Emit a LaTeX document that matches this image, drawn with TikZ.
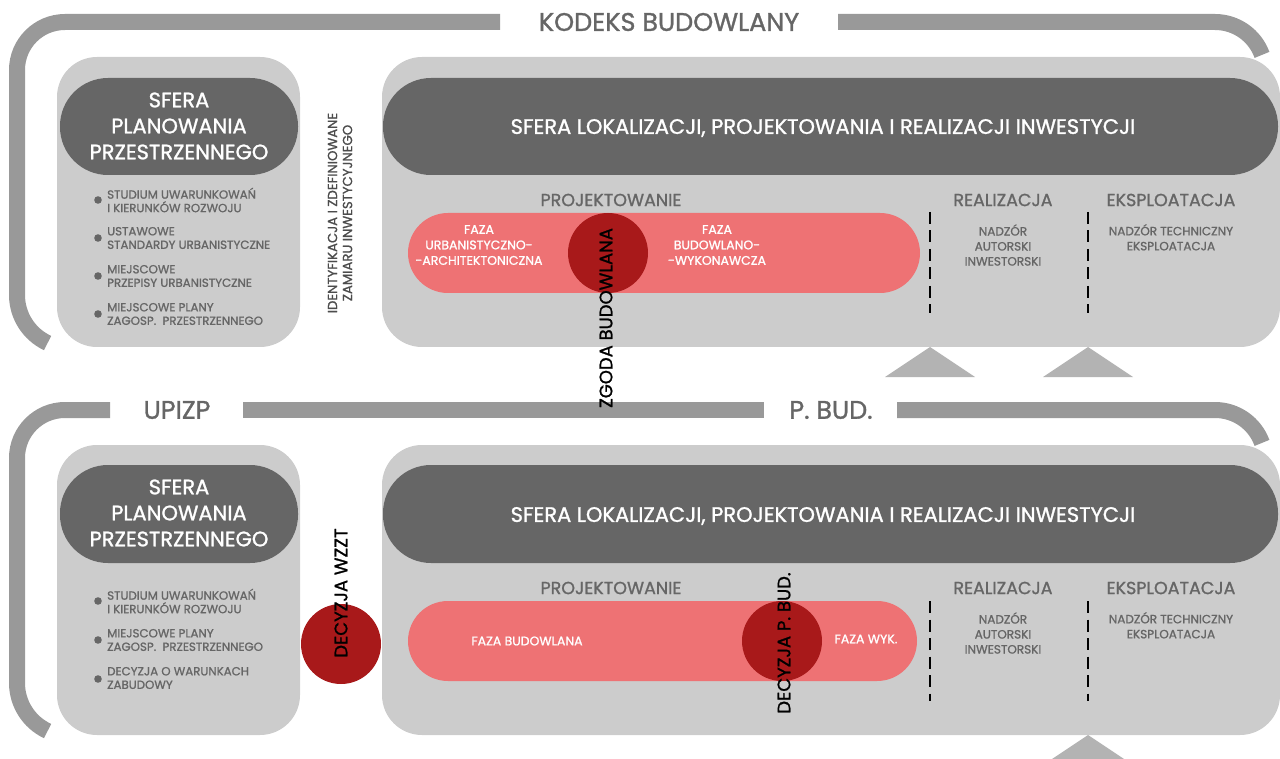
\documentclass[tikz,border=0pt]{standalone}
\usepackage{fontspec}
\setmainfont{Poppins}[FakeBold=1.2]
\definecolor{barg}{HTML}{999999}
\definecolor{lightg}{HTML}{CCCCCC}
\definecolor{darkg}{HTML}{666666}
\definecolor{txtg}{HTML}{666666}
\definecolor{salmon}{HTML}{EE7274}
\definecolor{dred}{HTML}{A8191A}
\definecolor{trig}{HTML}{B3B3B3}
\tikzset{
  bar/.style={draw=barg, line width=16pt, line cap=butt},
  panel/.style={fill=lightg, rounded corners=40pt},
  pill/.style={fill=darkg, rounded corners=48pt},
  phase/.style={fill=salmon, rounded corners=40pt},
  stamp/.style={fill=dred},
  tri/.style={fill=trig},
  sep/.style={draw=black, line width=2.6pt, dash pattern=on 12pt off 6.5pt},
  bigtitle/.style={text=txtg, font=\fontsize{25.5}{28}\selectfont, inner sep=0pt},
  pilltext/.style={text=white, align=center, font=\fontsize{21}{26}\selectfont, inner sep=0pt},
  head/.style={text=txtg, font=\fontsize{17.5}{18}\selectfont, inner sep=0pt},
  small/.style={text=txtg, align=left, anchor=west, font=\fontsize{11.8}{13.5}\selectfont, inner sep=0pt},
  smallc/.style={text=txtg, align=center, font=\fontsize{12}{15}\selectfont, inner sep=0pt},
  white small/.style={text=white, align=center, font=\fontsize{12.5}{15.5}\selectfont, inner sep=0pt},
  vlabel/.style={text=black, rotate=90, font=\fontsize{18}{18}\selectfont, inner sep=0pt},
  dot/.style={fill=txtg},
}
\begin{document}
\begin{tikzpicture}[x=1pt,y=-1pt]
\useasboundingbox (0,0) rectangle (1280,759);
\clip (0,0) rectangle (1280,759);

% ---------- brackets ----------
\draw[bar] (500,22) -- (65,22) arc[start angle=270, end angle=180, radius=48] -- (17,295) arc[start angle=180, end angle=115, radius=53];
\draw[bar] (838,22) -- (1215,22) arc[start angle=270, end angle=340, radius=50];
\draw[bar] (110,410) -- (65,410) arc[start angle=270, end angle=180, radius=48] -- (17,683) arc[start angle=180, end angle=115, radius=53];
\draw[bar] (243,410) -- (764,410);
\draw[bar] (897,410) -- (1215,410) arc[start angle=270, end angle=340, radius=50];

\node[bigtitle] (kb) at (669,22) {KODEKS BUDOWLANY};
\node[bigtitle] (upizp) at (177,410) {UPIZP};
\node[bigtitle] (pbud) at (831,410) {P. BUD.};

% ---------- top row ----------
\fill[panel] (57,57) rectangle (300,347);
\fill[pill] (60,78) rectangle (298,175);
\node[pilltext] (spp1) at (179,126) {SFERA\\PLANOWANIA\\PRZESTRZENNEGO};

\foreach \y/\i in {200/1,238/2,276/3,314/4}{\fill[dot] (98,\y) circle (3.8);}
\node[small] (b1) at (107,200) {STUDIUM UWARUNKOWAŃ\\I KIERUNKÓW ROZWOJU};
\node[small] (b2) at (107,238) {USTAWOWE\\STANDARDY URBANISTYCZNE};
\node[small] (b3) at (107,276) {MIEJSCOWE\\PRZEPISY URBANISTYCZNE};
\node[small] (b4) at (107,314) {MIEJSCOWE PLANY\\ZAGOSP.\ \ PRZESTRZENNEGO};

\node[smallc, rotate=90, text=black!70, font=\fontsize{13.2}{15}\selectfont] (ident) at (340,213) {IDENTYFIKACJA I ZDEFINIOWANE\\ZAMIARU INWESTYCYJNEGO};

\fill[panel] (382,57) rectangle (1280,347);
\fill[pill] (383,78) rectangle (1278,175);
\node[pilltext] (slp1) at (823,128) {SFERA LOKALIZACJI, PROJEKTOWANIA I REALIZACJI INWESTYCJI};

\node[head] (proj1) at (611,200) {PROJEKTOWANIE};
\node[head] (real1) at (1003,200) {REALIZACJA};
\node[head] (eksp1) at (1171,200) {EKSPLOATACJA};

\fill[phase] (408,213) rectangle (920,293);
\fill[stamp] (608,253) circle (40);
\node[white small] (fua) at (479,245) {FAZA\\URBANISTYCZNO-\\-ARCHITEKTONICZNA};
\node[white small] (fbw) at (717,245) {FAZA\\BUDOWLANO-\\-WYKONAWCZA};

\draw[sep] (930,212) -- (930,313);
\draw[sep] (1088,212) -- (1088,313);
\node[smallc] (nad1) at (1003,245) {NADZÓR\\AUTORSKI\\INWESTORSKI};
\node[smallc, anchor=north] (nt1) at (1171,224) {NADZÓR TECHNICZNY\\EKSPLOATACJA};

\fill[tri] (930,347) -- (975,377) -- (885,377) -- cycle;
\fill[tri] (1088,347) -- (1133,377) -- (1043,377) -- cycle;

\node[vlabel] (zgoda) at (606,318) {ZGODA BUDOWLANA};

% ---------- bottom row ----------
\fill[panel] (57,445) rectangle (300,735);
\fill[pill] (60,465) rectangle (298,563);
\node[pilltext] (spp2) at (179,513) {SFERA\\PLANOWANIA\\PRZESTRZENNEGO};

\foreach \y/\i in {601/1,640/2,679/3}{\fill[dot] (98,\y) circle (3.8);}
\node[small] (c1) at (107,601) {STUDIUM UWARUNKOWAŃ\\I KIERUNKÓW ROZWOJU};
\node[small] (c2) at (107,640) {MIEJSCOWE PLANY\\ZAGOSP.\ \ PRZESTRZENNEGO};
\node[small] (c3) at (107,678) {DECYZJA O WARUNKACH\\ZABUDOWY};

\fill[stamp] (341,644) circle (40);
\node[vlabel] (wzzt) at (341,593) {DECYZJA WZZT};

\fill[panel] (382,445) rectangle (1280,735);
\fill[pill] (383,465) rectangle (1278,563);
\node[pilltext] (slp2) at (823,516) {SFERA LOKALIZACJI, PROJEKTOWANIA I REALIZACJI INWESTYCJI};

\node[head] (proj2) at (611,588) {PROJEKTOWANIE};
\node[head] (real2) at (1003,588) {REALIZACJA};
\node[head] (eksp2) at (1171,588) {EKSPLOATACJA};

\fill[phase] (408,601) rectangle (917,681);
\fill[stamp] (782,641) circle (40);
\node[white small] (fb) at (527,641) {FAZA BUDOWLANA};
\node[white small] (fw) at (866,639) {FAZA WYK.};

\draw[sep] (930,601) -- (930,701);
\draw[sep] (1088,601) -- (1088,701);
\node[smallc] (nad2) at (1003,633) {NADZÓR\\AUTORSKI\\INWESTORSKI};
\node[smallc, anchor=north] (nt2) at (1171,612) {NADZÓR TECHNICZNY\\EKSPLOATACJA};

\fill[tri] (1088,735) -- (1133,765) -- (1043,765) -- cycle;

\node[vlabel] (pb) at (784,643) {DECYZJA P. BUD.};
\end{tikzpicture}
\end{document}
